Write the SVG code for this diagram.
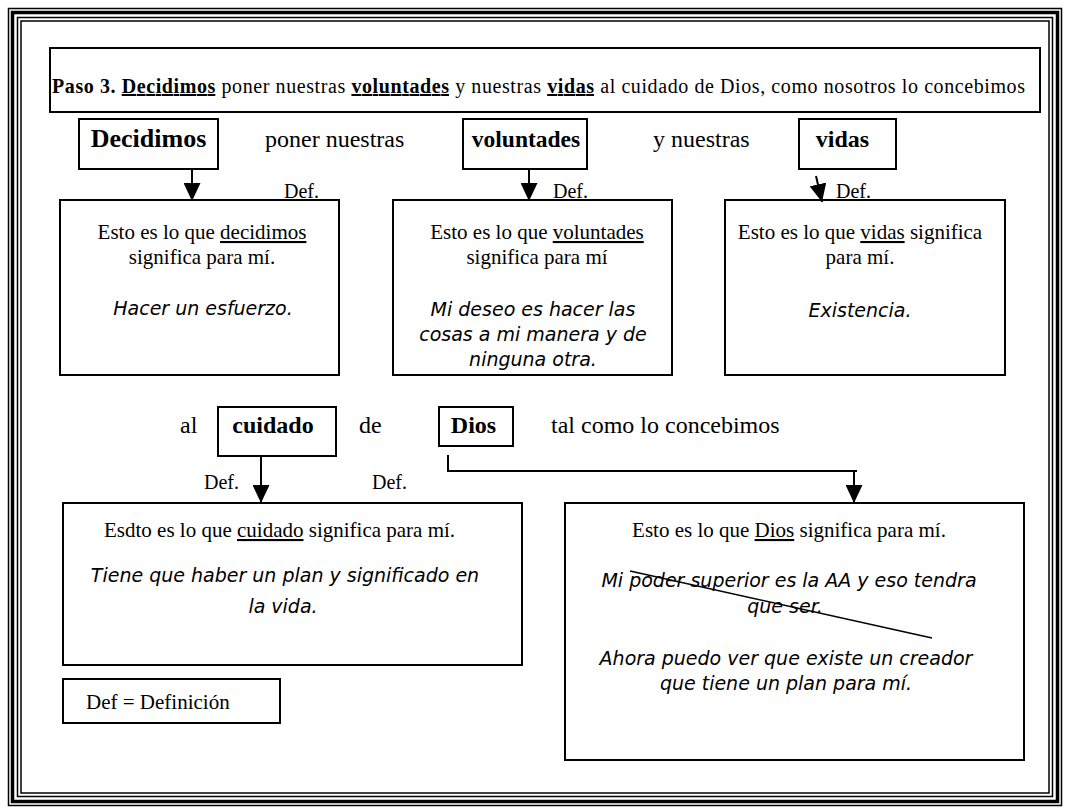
<svg xmlns="http://www.w3.org/2000/svg" width="1070" height="810" viewBox="0 0 1070 810">
<style>
.box{fill:#fff;stroke:#000;stroke-width:2}
.t{font-family:"Liberation Serif","Times New Roman",serif;fill:#000}
.b{font-weight:bold}
.c{font-family:"Comic Sans MS","DejaVu Sans",sans-serif;font-style:italic;fill:#000;font-size:19px}
.u{text-decoration:underline}
.ln{fill:none;stroke:#000;stroke-width:2}
</style>
<defs>
<marker id="ah" viewBox="0 0 18 17" refX="18" refY="8.5" markerWidth="18" markerHeight="17" orient="auto" markerUnits="userSpaceOnUse">
<path d="M0,0 L18,8.5 L0,17 z" fill="#000"/>
</marker>
</defs>
<rect width="1070" height="810" fill="#fff"/>
<g id="frame" fill="none" stroke="#000">
<rect x="8.5" y="8.5" width="1053" height="797" stroke-width="1.5"/>
<rect x="12.5" y="12.5" width="1045" height="789" stroke-width="3.5"/>
<rect x="17.5" y="17.5" width="1035" height="779" stroke-width="1.5"/>
<rect x="21" y="21" width="1028" height="772" stroke-width="1.5"/>
</g>
<g id="title">
<rect class="box" x="50" y="48" width="990" height="64"/>
<text class="t" x="52" y="93" font-size="20" textLength="973" lengthAdjust="spacing"><tspan class="b">Paso 3</tspan><tspan class="b">.</tspan>  <tspan class="b u">Decidimos</tspan> poner nuestras <tspan class="b u">voluntades</tspan> y nuestras <tspan class="b u">vidas</tspan> al cuidado de Dios, como nosotros lo concebimos</text>
</g>
<g id="row1-words">
<text class="t" x="265" y="147" font-size="24">poner nuestras</text>
<text class="t" x="653" y="147" font-size="24">y nuestras</text>
</g>
<g id="n-decidimos">
<rect class="box" x="79" y="119" width="139" height="50"/>
<text class="t b" x="148.5" y="147" font-size="26" text-anchor="middle">Decidimos</text>
</g>
<g id="n-voluntades">
<rect class="box" x="463" y="119" width="124" height="50"/>
<text class="t b" x="526" y="147" font-size="23.5" text-anchor="middle">voluntades</text>
</g>
<g id="n-vidas">
<rect class="box" x="799" y="119" width="97" height="50"/>
<text class="t b" x="842.5" y="147" font-size="24" text-anchor="middle">vidas</text>
</g>
<g id="def-decidimos">
<rect class="box" x="60" y="200" width="279" height="175"/>
<text class="t" x="202" y="239" font-size="21" text-anchor="middle">Esto es lo que <tspan class="u">decidimos</tspan></text>
<text class="t" x="202" y="264" font-size="21" text-anchor="middle">significa para mí.</text>
<text class="c" x="203" y="315" text-anchor="middle">Hacer un esfuerzo.</text>
</g>
<g id="def-voluntades">
<rect class="box" x="393" y="200" width="279" height="175"/>
<text class="t" x="537" y="239" font-size="21" text-anchor="middle">Esto es lo que <tspan class="u">voluntades</tspan></text>
<text class="t" x="537" y="264" font-size="21" text-anchor="middle">significa para mí</text>
<text class="c" x="533" y="316" text-anchor="middle">Mi deseo es hacer las</text>
<text class="c" x="533" y="341" text-anchor="middle">cosas a mi manera y de</text>
<text class="c" x="533" y="366" text-anchor="middle">ninguna otra.</text>
</g>
<g id="def-vidas">
<rect class="box" x="725" y="200" width="280" height="175"/>
<text class="t" x="860" y="239" font-size="21" text-anchor="middle">Esto es lo que <tspan class="u">vidas</tspan> significa</text>
<text class="t" x="860" y="264" font-size="21" text-anchor="middle">para mí.</text>
<text class="c" x="860" y="317" text-anchor="middle">Existencia.</text>
</g>
<g id="labels-def">
<text class="t" x="284" y="198" font-size="20">Def.</text>
<text class="t" x="553" y="198" font-size="20">Def.</text>
<text class="t" x="836" y="198" font-size="20">Def.</text>
<text class="t" x="204" y="489" font-size="20">Def.</text>
<text class="t" x="372" y="489" font-size="20">Def.</text>
</g>
<g id="row3-words">
<text class="t" x="180" y="433" font-size="24">al</text>
<text class="t" x="359" y="433" font-size="24">de</text>
<text class="t" x="551" y="433" font-size="24">tal como lo concebimos</text>
</g>
<g id="n-cuidado">
<rect class="box" x="218" y="407" width="118" height="49"/>
<text class="t b" x="273" y="433" font-size="24" text-anchor="middle">cuidado</text>
</g>
<g id="n-dios">
<rect class="box" x="439" y="407" width="74" height="39"/>
<text class="t b" x="473.5" y="433" font-size="24" text-anchor="middle">Dios</text>
</g>
<g id="def-cuidado">
<rect class="box" x="63" y="503" width="459" height="162"/>
<text class="t" x="104" y="537" font-size="21">Esdto es lo que <tspan class="u">cuidado</tspan> significa para mí.</text>
<text class="c" x="285" y="582" text-anchor="middle">Tiene que haber un plan y significado en</text>
<text class="c" x="283" y="613" text-anchor="middle">la vida.</text>
</g>
<g id="def-dios">
<rect class="box" x="565" y="503" width="459" height="257"/>
<text class="t" x="789" y="537" font-size="21" text-anchor="middle">Esto es lo que <tspan class="u">Dios</tspan> significa para mí.</text>
<text class="c" x="789" y="587" text-anchor="middle">Mi poder superior es la AA y eso tendra</text>
<text class="c" x="785" y="613" text-anchor="middle">que ser.</text>
<line x1="630" y1="571" x2="932" y2="638" stroke="#000" stroke-width="1.5"/>
<text class="c" x="786" y="665" text-anchor="middle">Ahora puedo ver que existe un creador</text>
<text class="c" x="786" y="690" text-anchor="middle">que tiene un plan para mí.</text>
</g>
<g id="legend">
<rect class="box" x="63" y="679" width="217" height="44"/>
<text class="t" x="86" y="709" font-size="21">Def = Definición</text>
</g>
<g id="connectors">
<line class="ln" x1="192" y1="169" x2="192" y2="201" marker-end="url(#ah)"/>
<line class="ln" x1="529" y1="169" x2="529" y2="201" marker-end="url(#ah)"/>
<line class="ln" x1="816" y1="176" x2="822" y2="202" marker-end="url(#ah)"/>
<line class="ln" x1="261" y1="456" x2="261" y2="503" marker-end="url(#ah)"/>
<polyline class="ln" points="448,455 448,471 857,471"/>
<line class="ln" x1="854" y1="471" x2="854" y2="503" marker-end="url(#ah)"/>
</g>
</svg>
